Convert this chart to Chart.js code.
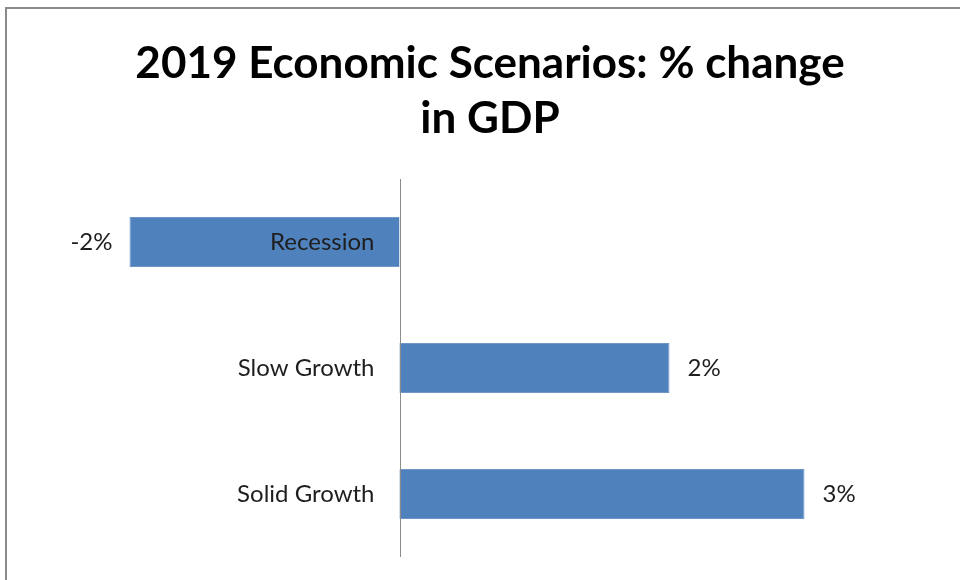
<!DOCTYPE html>
<html lang="en">
<head>
    <meta charset="UTF-8">
    <title>2019 Economic Scenarios</title>
    <script src="https://cdn.jsdelivr.net/npm/chart.js"></script>
    <style>
        body {
            margin: 0;
            padding: 0;
            background: #ffffff;
        }
        .wrap {
            width: 960px;
            height: 580px;
        }
    </style>
</head>
<body>
    <div class="wrap">
        <canvas id="gdp-chart" width="960" height="580"></canvas>
    </div>

    <script>
        // scenarios and their % change in GDP
        const scenarios = ["Recession", "Slow Growth", "Solid Growth"];
        const gdpChange = [-2, 2, 3];
        const titleLines = ["2019 Economic Scenarios: % change", "in GDP"];

        const labelFont = "24px Lato, 'Open Sans', sans-serif";
        const titleFont = "bold 44px Lato, 'Open Sans', sans-serif";

        // outer frame, title, zero line, category names and value labels
        const decorations = {
            id: "decorations",
            beforeDraw(chart) {
                const ctx = chart.ctx;
                ctx.save();
                ctx.strokeStyle = "#8a8a8a";
                ctx.lineWidth = 2;
                ctx.strokeRect(6, 8, 1000, 1000);

                ctx.font = titleFont;
                ctx.fillStyle = "#000000";
                ctx.textAlign = "center";
                ctx.textBaseline = "alphabetic";
                ctx.fillText(titleLines[0], 490, 78);
                ctx.fillText(titleLines[1], 490, 133);
                ctx.restore();
            },
            afterDatasetsDraw(chart) {
                const ctx = chart.ctx;
                const x = chart.scales.x;
                const y = chart.scales.y;
                const zero = x.getPixelForValue(0);
                const area = chart.chartArea;

                ctx.save();
                ctx.strokeStyle = "#8c8c8c";
                ctx.lineWidth = 1;
                ctx.beginPath();
                ctx.moveTo(Math.round(zero) + 0.5, area.top);
                ctx.lineTo(Math.round(zero) + 0.5, area.bottom);
                ctx.stroke();

                ctx.font = labelFont;
                ctx.fillStyle = "#1e1e1e";
                ctx.textBaseline = "middle";

                scenarios.forEach((name, i) => {
                    const cy = y.getPixelForValue(i);
                    ctx.textAlign = "right";
                    ctx.fillText(name, zero - 25, cy);

                    const v = gdpChange[i];
                    const end = x.getPixelForValue(v);
                    if (v < 0) {
                        ctx.textAlign = "right";
                        ctx.fillText(v + "%", end - 17, cy);
                    } else {
                        ctx.textAlign = "left";
                        ctx.fillText(v + "%", end + 18, cy);
                    }
                });
                ctx.restore();
            }
        };

        new Chart(document.getElementById("gdp-chart"), {
            type: "bar",
            data: {
                labels: scenarios,
                datasets: [{
                    data: gdpChange,
                    backgroundColor: "#4f81bd",
                    borderColor: "#6f97c8",
                    borderWidth: 1,
                    categoryPercentage: 1,
                    barPercentage: 0.397
                }]
            },
            options: {
                indexAxis: "y",
                responsive: false,
                animation: false,
                layout: {
                    padding: { left: 116, right: 34, bottom: 23, top: 179 }
                },
                scales: {
                    x: { display: false, min: -2.1, max: 3.9 },
                    y: { display: false }
                },
                plugins: {
                    legend: { display: false },
                    tooltip: { enabled: false },
                    title: { display: false }
                }
            },
            plugins: [decorations]
        });
    </script>
</body>
</html>
